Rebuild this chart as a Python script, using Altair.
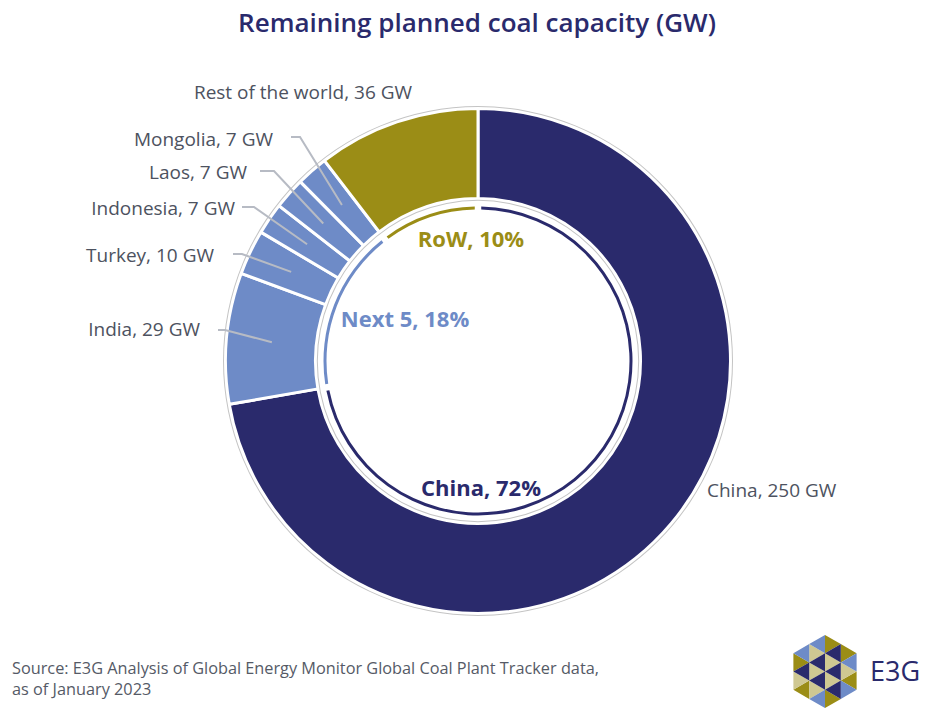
import math
import altair as alt
import pandas as pd

# ---------------- data ----------------
countries = ["China", "India", "Turkey", "Indonesia", "Laos", "Mongolia", "Rest of the world"]
capacity_gw = [250, 29, 10, 7, 7, 7, 36]
groups = ["China", "Next 5", "Next 5", "Next 5", "Next 5", "Next 5", "RoW"]
group_names = ["China", "Next 5", "RoW"]
group_share_pct = [72, 18, 10]

title_text = "Remaining planned coal capacity (GW)"
source_lines = ["Source: E3G Analysis of Global Energy Monitor Global Coal Plant Tracker data,",
                "as of January 2023"]
logo_text = "E3G"

# ---------------- style / layout ----------------
NAVY = "#2a2a6c"
BLUE = "#6e8bc7"
OLIVE = "#9b8d16"
BEIGE = "#cfc892"
TXT = "#4d5260"
LINE = "#b7bbc4"
GREY = "#c4c4c4"
FONT = "Open Sans"

W, H = 915, 703
CX, CY = 470, 353
R_OUT, R_IN = 252.5, 162.5
LEADER_R = 207

group_color = {"China": NAVY, "Next 5": BLUE, "RoW": OLIVE}

# label layout (chart pixel coords)
label_layout = {
    "China": dict(x=699, y=483, align="left"),
    "India": dict(x=192, y=322, align="right"),
    "Turkey": dict(x=206, y=248, align="right"),
    "Indonesia": dict(x=227, y=201, align="right"),
    "Laos": dict(x=239, y=165, align="right"),
    "Mongolia": dict(x=265, y=132, align="right"),
    "Rest of the world": dict(x=295, y=85, align="center"),
}
leader_layout = {  # (end point, elbow point)
    "India": ((210, 322), (217, 322)),
    "Turkey": ((225, 246), (234, 246)),
    "Indonesia": ((234, 199), (246, 199)),
    "Laos": ((252, 163), (266, 163)),
    "Mongolia": ((283, 129), (292, 129)),
}
inner_label_layout = {
    "China": (473, 481),
    "Next 5": (397, 312),
    "RoW": (463, 232),
}

total = sum(capacity_gw)

# ---------------- tables ----------------
seg = pd.DataFrame({
    "country": countries,
    "gw": capacity_gw,
    "grp": groups,
    "idx": list(range(len(countries))),
})

grp_tot = [sum(v for v, g in zip(capacity_gw, groups) if g == gn) for gn in group_names]
grp_df = pd.DataFrame({"grp": group_names, "gw": grp_tot, "idx": [0, 1, 2]})

color_scale = alt.Scale(domain=group_names, range=[group_color[g] for g in group_names])

base_pos = dict(x=alt.value(CX), y=alt.value(CY))

outer_ring = alt.Chart(seg).mark_arc(
    radius=R_OUT, radius2=R_IN, stroke="white", strokeWidth=3
).encode(
    theta=alt.Theta("gw:Q", stack=True),
    order=alt.Order("idx:Q"),
    color=alt.Color("grp:N", scale=color_scale, legend=None),
    **base_pos,
)

inner_ring = alt.Chart(grp_df).mark_arc(
    radius=154.5, radius2=151.5, padAngle=0.03
).encode(
    theta=alt.Theta("gw:Q", stack=True),
    order=alt.Order("idx:Q"),
    color=alt.Color("grp:N", scale=color_scale, legend=None),
    **base_pos,
)

circ_df = pd.DataFrame({"r1": [255.0, 161.2], "r2": [254.0, 160.2]})
grey_circles = alt.Chart(circ_df).mark_arc(
    theta=0, theta2=2 * math.pi, color=GREY
).encode(
    radius=alt.Radius("r1:Q", scale=None),
    radius2=alt.Radius2("r2:Q"),
    **base_pos,
)

# leader lines
rows = []
cum = 0
for c, v in zip(countries, capacity_gw):
    a = (cum + v / 2) / total * 2 * math.pi
    cum += v
    if c in leader_layout:
        end, elbow = leader_layout[c]
        ix = CX + LEADER_R * math.sin(a)
        iy = CY - LEADER_R * math.cos(a)
        for k, (px, py) in enumerate([end, elbow, (ix, iy)]):
            rows.append({"country": c, "k": k, "x": px, "y": py})
lead_df = pd.DataFrame(rows)
leaders = alt.Chart(lead_df).mark_line(color=LINE, strokeWidth=2).encode(
    x=alt.X("x:Q", scale=None, axis=None),
    y=alt.Y("y:Q", scale=None, axis=None),
    detail="country:N",
    order="k:Q",
)

lab_rows = []
for c, v in zip(countries, capacity_gw):
    L = label_layout[c]
    lab_rows.append({"t": f"{c}, {v} GW", "x": L["x"], "y": L["y"], "al": L["align"]})
lab_df = pd.DataFrame(lab_rows)


def txt_layer(df, align, **kw):
    return alt.Chart(df).mark_text(align=align, baseline="middle", font=FONT, **kw).encode(
        x=alt.X("x:Q", scale=None, axis=None),
        y=alt.Y("y:Q", scale=None, axis=None),
        text="t:N",
    )


outer_labels = [
    txt_layer(lab_df[lab_df.al == al], al, fontSize=19, color=TXT)
    for al in ["left", "right", "center"]
]

inner_rows = []
for g, p in zip(group_names, group_share_pct):
    x, y = inner_label_layout[g]
    inner_rows.append({"t": f"{g}, {p}%", "x": x, "y": y, "grp": g})
inner_df = pd.DataFrame(inner_rows)
inner_labels = alt.Chart(inner_df).mark_text(
    align="center", baseline="middle", font=FONT, fontSize=22, fontWeight=700
).encode(
    x=alt.X("x:Q", scale=None, axis=None),
    y=alt.Y("y:Q", scale=None, axis=None),
    text="t:N",
    color=alt.Color("grp:N", scale=color_scale, legend=None),
)

title_df = pd.DataFrame({"t": [title_text], "x": [469], "y": [16]})
title = txt_layer(title_df, "center", fontSize=26, fontWeight=600, color=NAVY)

src_df = pd.DataFrame({"t": source_lines, "x": [4, 4], "y": [661, 682]})
source = txt_layer(src_df, "left", fontSize=16.3, color="#555a66")

logo_txt_df = pd.DataFrame({"t": [logo_text], "x": [862], "y": [665]})
logo_txt = txt_layer(logo_txt_df, "left", fontSize=27, color=NAVY)

# ---------------- logo hexagon (decoration) ----------------
LR = 36.5
s = LR / 2
h = s * math.sqrt(3) / 2
SC = 40.0


def tri_path(pts):
    return "M" + " L".join(f"{px / SC:.4f},{py / SC:.4f}" for px, py in pts) + " Z"


tris = []  # (points, color)
# column 1: x in [-2h,-h]
for yc, col in zip([-s / 2, s / 2], [OLIVE, BEIGE]):  # right-pointing, edge on -2h
    tris.append(([(-2 * h, yc - s / 2), (-2 * h, yc + s / 2), (-h, yc)], col))
for yc, col in zip([-s, 0, s], [BLUE, NAVY, OLIVE]):  # left-pointing, edge on -h
    tris.append(([(-h, yc - s / 2), (-h, yc + s / 2), (-2 * h, yc)], col))
# column 2: x in [-h,0]
for yc, col in zip([-s, 0, s], [BEIGE, BEIGE, BEIGE]):  # right-pointing, edge on -h
    tris.append(([(-h, yc - s / 2), (-h, yc + s / 2), (0, yc)], col))
for yc, col in zip([-1.5 * s, -0.5 * s, 0.5 * s, 1.5 * s], [BLUE, NAVY, NAVY, BLUE]):
    tris.append(([(0, yc - s / 2), (0, yc + s / 2), (-h, yc)], col))
# column 3: x in [0,h]
for yc, col in zip([-1.5 * s, -0.5 * s, 0.5 * s, 1.5 * s], [OLIVE, BEIGE, BEIGE, OLIVE]):
    tris.append(([(0, yc - s / 2), (0, yc + s / 2), (h, yc)], col))
for yc, col in zip([-s, 0, s], [NAVY, NAVY, NAVY]):
    tris.append(([(h, yc - s / 2), (h, yc + s / 2), (0, yc)], col))
# column 4: x in [h,2h]
for yc, col in zip([-s, 0, s], [OLIVE, BEIGE, BLUE]):
    tris.append(([(h, yc - s / 2), (h, yc + s / 2), (2 * h, yc)], col))
for yc, col in zip([-s / 2, s / 2], [BLUE, OLIVE]):
    tris.append(([(2 * h, yc - s / 2), (2 * h, yc + s / 2), (h, yc)], col))

logo_paths = {}
for pts, col in tris:
    logo_paths.setdefault(col, []).append(tri_path(pts))
logo_df = pd.DataFrame({"shape": [" ".join(v) for v in logo_paths.values()],
                        "col": list(logo_paths.keys())})
logo = alt.Chart(logo_df).mark_point(filled=True, size=(2 * SC) ** 2, opacity=1, strokeWidth=0).encode(
    x=alt.value(817), y=alt.value(663.5),
    shape=alt.Shape("shape:N", scale=None),
    color=alt.Color("col:N", scale=None),
)

chart = alt.layer(
    outer_ring, grey_circles, inner_ring, leaders, *outer_labels, inner_labels,
    title, source, logo, logo_txt,
).properties(
    width=W, height=H, padding=0, autosize=alt.AutoSizeParams(type="none")
).configure_view(stroke=None).resolve_scale(color="independent")

chart.save("out.html", embed_options={"renderer": "svg", "actions": False})
